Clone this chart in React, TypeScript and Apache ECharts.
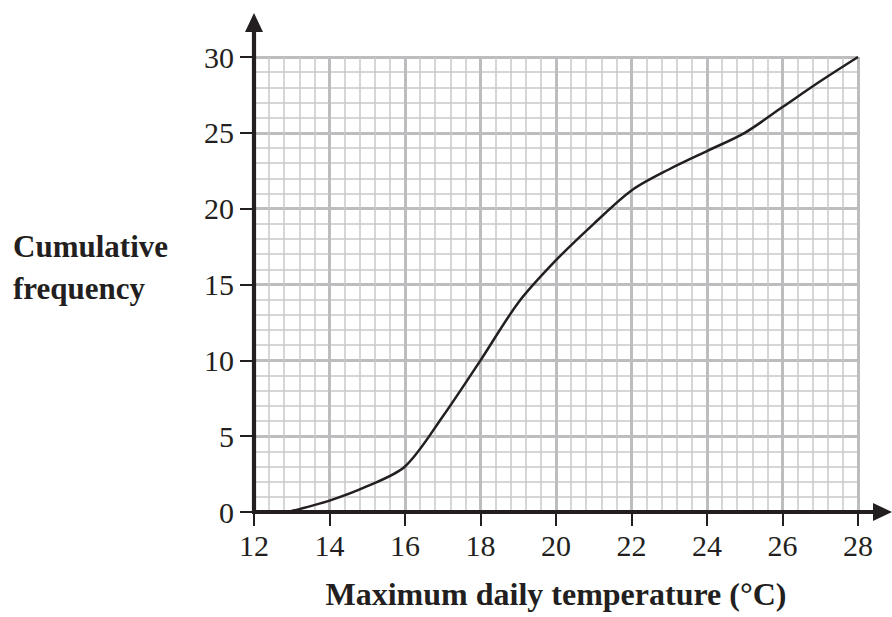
import React, { useEffect, useRef } from "react";
import * as echarts from "echarts";

const temperatures = [12.9, 14, 15, 16, 17, 18, 19, 20, 21, 22, 23, 24, 25, 26, 27, 28];
const cumulativeFrequency = [0, 0.75, 1.7, 3, 6.3, 10, 13.8, 16.6, 19, 21.2, 22.6, 23.8, 25, 26.7, 28.4, 30];
const xTicks = [12, 14, 16, 18, 20, 22, 24, 26, 28];
const yTicks = [0, 5, 10, 15, 20, 25, 30];
const xLabel = "Maximum daily temperature (°C)";
const yLabelLines = ["Cumulative", "frequency"];

const INK = "#231f20";
const SERIF = "'Liberation Serif', 'Times New Roman', serif";

export default function App() {
  const ref = useRef<HTMLDivElement>(null);
  useEffect(() => {
    if (!ref.current) return;
    const chart = echarts.init(ref.current, null, { renderer: "svg" });
    const xMin = xTicks[0];
    const xMax = xTicks[xTicks.length - 1];
    const yMin = yTicks[0];
    const yMax = yTicks[yTicks.length - 1];
    chart.setOption({
      animation: false,
      backgroundColor: "#ffffff",
      grid: { left: 254, right: 34, top: 57, bottom: 105, containLabel: false },
      xAxis: {
        type: "value",
        min: xMin,
        max: xMax,
        interval: 2,
        axisLine: { show: false },
        axisTick: { show: true, length: 14, lineStyle: { color: INK, width: 2 } },
        axisLabel: { margin: 18, color: INK, fontFamily: SERIF, fontSize: 30 },
        splitLine: { show: true, lineStyle: { color: "#bdbdbf", width: 3 } },
        minorTick: { show: false, splitNumber: 5 },
        minorSplitLine: { show: true, lineStyle: { color: "#c9c9cb", width: 1.5 } },
      },
      yAxis: {
        type: "value",
        min: yMin,
        max: yMax,
        interval: 5,
        axisLine: { show: false },
        axisTick: { show: true, length: 14, lineStyle: { color: INK, width: 2 } },
        axisLabel: { margin: 20, color: INK, fontFamily: SERIF, fontSize: 30 },
        splitLine: { show: true, lineStyle: { color: "#bdbdbf", width: 3 } },
        minorTick: { show: false, splitNumber: 5 },
        minorSplitLine: { show: true, lineStyle: { color: "#c9c9cb", width: 1.5 } },
      },
      series: [
        {
          type: "line",
          data: temperatures.map((t, i) => [t, cumulativeFrequency[i]]),
          smooth: 0.3,
          showSymbol: false,
          lineStyle: { color: INK, width: 2.5 },
          z: 5,
        },
      ],
    });

    const o = chart.convertToPixel({ gridIndex: 0 }, [xMin, yMin]) as number[];
    const top = chart.convertToPixel({ gridIndex: 0 }, [xMin, yMax]) as number[];
    const right = chart.convertToPixel({ gridIndex: 0 }, [xMax, yMin]) as number[];
    const yTip = top[1] - 44;
    const xTip = right[0] + 34;
    const head = 19;
    const half = 9;
    chart.setOption({
      graphic: [
        {
          type: "line",
          shape: { x1: o[0], y1: o[1] + 1, x2: o[0], y2: yTip + head - 1 },
          style: { stroke: INK, lineWidth: 4.2 },
          z: 10,
        },
        {
          type: "polygon",
          shape: { points: [[o[0], yTip], [o[0] - half, yTip + head], [o[0] + half, yTip + head]] },
          style: { fill: INK },
          z: 10,
        },
        {
          type: "line",
          shape: { x1: o[0] - 2, y1: o[1], x2: xTip - head + 1, y2: o[1] },
          style: { stroke: INK, lineWidth: 4.2 },
          z: 10,
        },
        {
          type: "polygon",
          shape: { points: [[xTip, o[1]], [xTip - head, o[1] - half], [xTip - head, o[1] + half]] },
          style: { fill: INK },
          z: 10,
        },
        ...yLabelLines.map((line, i) => ({
          type: "text",
          x: 13,
          y: 246 + i * 42,
          style: {
            text: line,
            fill: INK,
            font: `bold 31px ${SERIF}`,
            align: "left",
            verticalAlign: "middle",
          },
          z: 10,
        })),
        {
          type: "text",
          x: (o[0] + right[0]) / 2,
          y: o[1] + 82,
          style: {
            text: xLabel,
            fill: INK,
            font: `bold 32px ${SERIF}`,
            align: "center",
            verticalAlign: "middle",
          },
          z: 10,
        },
      ],
    });
    return () => chart.dispose();
  }, []);
  return (
    <div
      ref={ref}
      style={{ position: "absolute", left: 0, top: 0, width: 892, height: 617 }}
    />
  );
}
